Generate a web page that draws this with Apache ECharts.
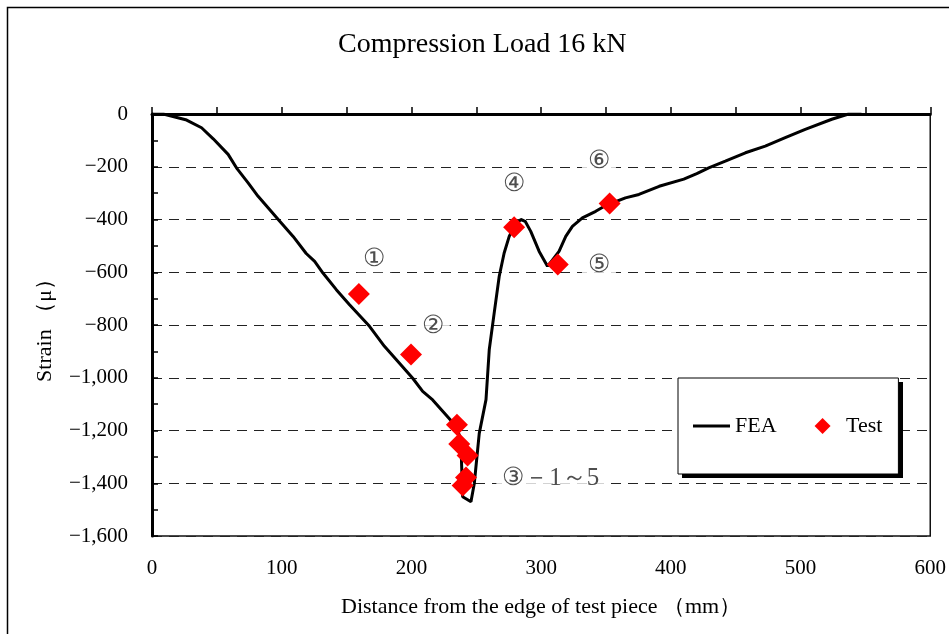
<!DOCTYPE html>
<html>
<head>
<meta charset="utf-8">
<script src="https://cdn.jsdelivr.net/npm/echarts@6/dist/echarts.min.js"></script>
<style>
html, body { margin: 0; padding: 0; background: #fff; }
#chart { width: 949px; height: 634px; }
</style>
</head>
<body>
<div id="chart"></div>
<script>
// FEA curve (distance mm, strain)
var feaX = [0, 8.7, 26.7, 38.2, 47.2, 58.7, 65.1, 74.1, 81.8, 98.5, 108.8, 118.9, 125.4, 131.8, 142.1, 152.3,
	167.7, 179.2, 190.8, 201, 208.7, 216.4, 226.7, 231, 235, 238, 238.5, 239.5, 245.9, 248.5, 252.3, 257.5,
	260, 263.8, 267.7, 271.5, 275.4, 279.2, 284.4, 287.7, 292, 298.5, 304.9, 308.5, 313.8, 319, 324.1, 331.8,
	342.1, 349.8, 365, 375.4, 391, 410, 420, 429.2, 442, 457.5, 472.8, 488.2, 503.6, 524.1, 537, 547];
var feaY = [0, 0, -23, -52, -94, -153, -204, -261, -312, -407, -464, -529, -559, -603, -666, -723,
	-805, -881, -945, -1002, -1052, -1084, -1141, -1165, -1195, -1230, -1300, -1451, -1470, -1400, -1211, -1083,
	-894, -755, -615, -527, -464, -426, -400, -407, -445, -521, -577, -555, -521, -464, -426, -394,
	-369, -347, -318, -305, -274, -247, -226, -204, -179, -147, -122, -90, -58, -20, 0, 0];

// Test points
var testX = [159.5, 199.7, 235.1, 236.9, 243.3, 242.1, 239.5, 279.2, 312.8, 352.8];
var testY = [-682, -912, -1178, -1251, -1295, -1378, -1409, -429, -571, -339];

// point annotations
var noteText = ['①', '②', '③－1～5', '④', '⑤', '⑥'];
var noteX = [171.5, 216.4, 307.5, 279.2, 344.6, 344.6];
var noteY = [-553, -804, -1381, -267, -576, -181];

var xTicks = [0, 100, 200, 300, 400, 500, 600];
var yTicks = [0, -200, -400, -600, -800, -1000, -1200, -1400, -1600];

var fontName = '"Liberation Serif", "DejaVu Serif", serif';

var chart = echarts.init(document.getElementById('chart'));

var feaData = feaX.map(function(x, i) { return [x, feaY[i]]; });
var testData = testX.map(function(x, i) { return [x, testY[i]]; });
var noteData = noteX.map(function(x, i) { return { name: noteText[i], value: [x, noteY[i]] }; });

var option = {
	animation: false,
	backgroundColor: '#fff',
	title: {
		text: 'Compression Load 16 kN',
		left: 333,
		top: 26,
		textStyle: { fontFamily: fontName, fontSize: 28, fontWeight: 'normal', color: '#000' }
	},
	grid: {
		left: 152, top: 114, right: 15, bottom: 98,
		show: true,
		borderColor: '#111',
		borderWidth: 1.5
	},
	legend: {
		data: [
			{ name: 'FEA', icon: 'path://M0,0L40,0L40,3L0,3Z' },
			{ name: 'Test', icon: 'path://M0,-1L1,0L0,1L-1,0Z' }
		],
		left: 678,
		top: 378,
		orient: 'horizontal',
		itemWidth: 37,
		itemHeight: 16,
		itemGap: 38,
		symbolKeepAspect: true,
		padding: [37, 16, 37, 15],
		backgroundColor: '#fff',
		borderColor: '#000',
		borderWidth: 1,
		z: 5,
		textStyle: { fontFamily: fontName, fontSize: 22, color: '#000' }
	},
	xAxis: {
		type: 'value',
		min: 0,
		max: 600,
		interval: 100,
		axisLine: { show: true, lineStyle: { color: '#000', width: 3 } },
		axisTick: { show: true, inside: true, length: 7, lineStyle: { color: '#000', width: 1.5 } },
		minorTick: { show: true, splitNumber: 2, length: 7, lineStyle: { color: '#000', width: 1.5 } },
		splitLine: { show: false },
		axisLabel: {
			margin: 22,
			fontFamily: fontName, fontSize: 21, color: '#000',
			formatter: function(v) { return xTicks.indexOf(v) >= 0 ? String(v) : ''; }
		},
		name: 'Distance from the edge of test piece （mm）',
		nameLocation: 'middle',
		nameGap: 60,
		nameTextStyle: { fontFamily: fontName, fontSize: 22, color: '#000' }
	},
	yAxis: {
		type: 'value',
		min: -1600,
		max: 0,
		interval: 200,
		axisLine: { show: true, lineStyle: { color: '#000', width: 3 } },
		axisTick: { show: true, inside: true, length: 6, lineStyle: { color: '#000', width: 1.5 } },
		minorTick: { show: true, splitNumber: 2, length: 6, lineStyle: { color: '#000', width: 1.5 } },
		splitLine: { show: true, lineStyle: { color: '#222', width: 1, type: [10, 7] } },
		axisLabel: {
			margin: 24,
			fontFamily: fontName, fontSize: 21, color: '#000',
			formatter: function(v) {
				if (yTicks.indexOf(v) < 0) return '';
				return v < 0 ? '−' + Math.abs(v).toLocaleString('en-US') : String(v);
			}
		},
		name: 'Strain （μ）',
		nameLocation: 'middle',
		nameGap: 96,
		nameTextStyle: { fontFamily: fontName, fontSize: 22, color: '#000' }
	},
	series: [
		{
			name: 'FEA',
			type: 'line',
			data: feaData,
			symbol: 'none',
			smooth: false,
			lineStyle: { color: '#000', width: 3 },
			itemStyle: { color: '#000' },
			z: 3
		},
		{
			name: 'Test',
			type: 'scatter',
			data: testData,
			symbol: 'diamond',
			symbolSize: 22,
			itemStyle: { color: '#ff0000', opacity: 1 },
			z: 4
		},
		{
			name: 'notes',
			type: 'scatter',
			data: noteData,
			symbolSize: 0,
			silent: true,
			label: {
				show: true,
				position: 'inside',
				formatter: '{b}',
				fontFamily: fontName,
				fontSize: 25,
				color: '#222',
				backgroundColor: '#fff',
				padding: [0, 6]
			},
			z: 2
		}
	],
	graphic: [
		{
			type: 'rect',
			left: 5, top: 5,
			shape: { width: 1000, height: 700 },
			style: { fill: 'none', stroke: '#000', lineWidth: 1.5 },
			silent: true
		},
		{
			// legend drop shadow
			type: 'rect',
			left: 682, top: 382,
			z: 1,
			shape: { width: 221, height: 96 },
			style: { fill: '#000' },
			silent: true
		}
	]
};

chart.setOption(option);
</script>
</body>
</html>
